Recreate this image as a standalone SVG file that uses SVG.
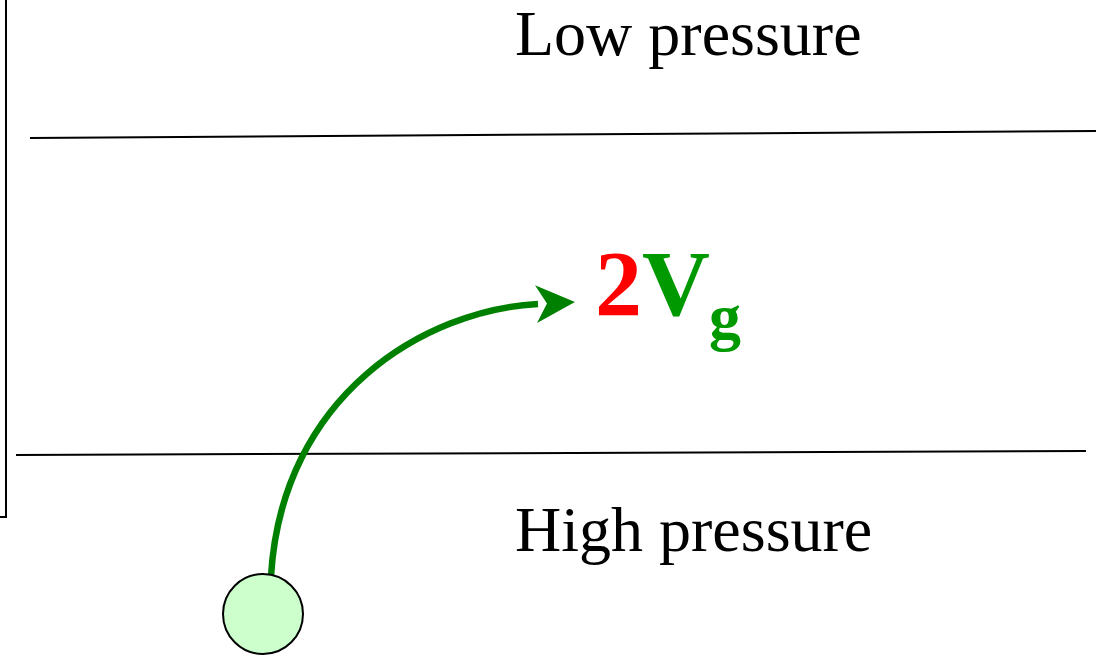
<svg xmlns="http://www.w3.org/2000/svg" width="1096" height="655" viewBox="0 0 1096 655">
<style>
.lbl{font-family:"Liberation Serif","Times New Roman",serif;font-size:64px;fill:#000}
.bold{font-family:"Liberation Serif","Times New Roman",serif;font-weight:bold}
.line{stroke:#000;stroke-width:2;fill:none}
</style>
<defs>
<marker id="ah" markerUnits="userSpaceOnUse" viewBox="0 0 40 40" refX="2" refY="20" markerWidth="40" markerHeight="40" orient="auto">
<path d="M0,1 L39,20 L0,39 L11,20 Z" fill="#008000"/>
</marker>
</defs>
<rect width="1096" height="655" fill="#fff"/>
<g id="frame">
<polyline class="line" points="6,0 6,517 0,517"/>
</g>
<g id="boundaries">
<line class="line" x1="30" y1="138" x2="1096" y2="131"/>
<line class="line" x1="16" y1="455" x2="1086" y2="451"/>
</g>
<g id="low-pressure"><text class="lbl" x="515" y="55">Low pressure</text></g>
<g id="high-pressure"><text class="lbl" x="515" y="551">High pressure</text></g>
<g id="label-2vg">
<text class="bold" x="595" y="315" font-size="94"><tspan fill="#ff0000">2</tspan><tspan fill="#009900">V</tspan></text>
<text class="bold" x="709" y="338" font-size="64" fill="#009900">g</text>
</g>
<g id="connectors">
<path d="M271,576 C282,395 425,310 538,304" fill="none" stroke="#008000" stroke-width="6.5" marker-end="url(#ah)"/>
</g>
<g id="particle">
<circle cx="263" cy="614" r="40" fill="#ccffcc" stroke="#000" stroke-width="2"/>
</g>
</svg>
